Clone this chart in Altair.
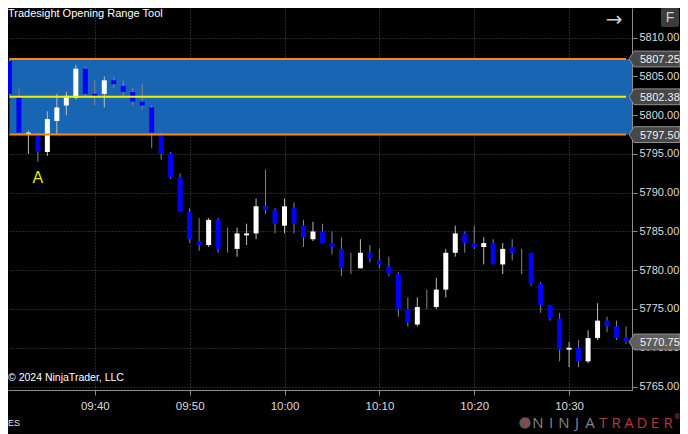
import altair as alt
import pandas as pd
import numpy as np

# ---- data (1-minute bars, minutes after 09:00) ----
minutes = list(range(31, 97))
opens = [5807.0, 5802.5, 5797.5, 5797.5, 5795.25, 5799.25, 5801.25, 5802.25, 5806.0, 5802.75,
         5802.75, 5804.5, 5803.75, 5803.0, 5801.75, 5801.0, 5797.5, 5795.0, 5792.0, 5787.5,
         5783.75, 5783.25, 5786.5, 5784.0, 5782.75, 5784.5, 5784.75, 5788.25, 5787.75, 5785.75,
         5788.0, 5785.75, 5784.0, 5785.0, 5783.5, 5782.75, 5781.0, 5780.25, 5782.25, 5781.25,
         5780.5, 5779.5, 5775.0, 5773.0, 5776.0, 5775.25, 5777.5, 5782.25, 5784.75, 5783.5,
         5783.0, 5783.5, 5780.75, 5783.0, 5781.0, 5782.25, 5778.25, 5775.5, 5773.75, 5769.75,
         5770.0, 5768.25, 5771.25, 5773.5, 5772.75, 5771.25]
highs = [5807.25, 5803.5, 5798.0, 5797.75, 5800.5, 5802.75, 5803.0, 5806.5, 5806.25, 5804.5,
         5805.0, 5805.0, 5804.5, 5803.5, 5804.0, 5801.25, 5797.75, 5795.25, 5792.5, 5788.0,
         5786.75, 5786.75, 5786.75, 5785.5, 5785.5, 5786.0, 5789.25, 5793.0, 5788.0, 5789.25,
         5788.75, 5786.5, 5786.25, 5786.0, 5785.0, 5784.25, 5782.25, 5784.0, 5783.25, 5782.75,
         5781.75, 5779.75, 5776.5, 5776.5, 5777.5, 5779.0, 5782.75, 5785.75, 5785.0, 5785.75,
         5784.25, 5784.0, 5783.5, 5784.0, 5782.75, 5782.25, 5778.5, 5775.5, 5774.5, 5770.75,
         5771.0, 5772.25, 5775.75, 5774.0, 5773.5, 5772.75]
lows = [5802.5, 5797.5, 5795.0, 5794.0, 5794.75, 5797.5, 5800.0, 5802.0, 5802.5, 5801.25,
        5801.0, 5803.5, 5802.5, 5801.25, 5800.75, 5795.75, 5794.25, 5791.75, 5787.5, 5783.5,
        5782.5, 5783.0, 5782.25, 5782.25, 5781.75, 5783.25, 5784.0, 5787.25, 5784.75, 5784.75,
        5784.75, 5783.0, 5783.75, 5783.5, 5782.0, 5779.25, 5779.5, 5780.25, 5781.0, 5780.25,
        5779.25, 5774.0, 5772.75, 5772.75, 5775.0, 5775.0, 5776.5, 5781.75, 5782.25, 5782.75,
        5780.75, 5780.75, 5779.5, 5781.25, 5779.5, 5778.0, 5774.5, 5773.5, 5768.25, 5767.5,
        5767.5, 5768.0, 5771.0, 5772.0, 5771.0, 5770.5]
closes = [5802.75, 5797.75, 5797.75, 5795.25, 5799.5, 5801.0, 5802.5, 5806.0, 5802.75, 5802.5,
          5804.5, 5804.0, 5803.0, 5801.75, 5801.25, 5797.75, 5795.0, 5792.0, 5787.5, 5784.0,
          5783.25, 5786.5, 5782.75, 5784.0, 5784.75, 5784.75, 5788.25, 5787.75, 5786.0, 5788.25,
          5786.0, 5784.25, 5785.0, 5783.5, 5783.0, 5780.25, 5781.0, 5782.25, 5781.5, 5780.75,
          5779.5, 5775.0, 5773.25, 5775.25, 5776.0, 5777.5, 5782.25, 5784.75, 5783.5, 5783.0,
          5783.5, 5780.75, 5782.75, 5782.25, 5781.0, 5778.25, 5775.5, 5773.75, 5769.75, 5770.0,
          5768.25, 5771.25, 5773.5, 5772.75, 5771.25, 5770.75]

range_start = [31]
range_end = [96]
range_levels = [5807.25, 5802.375, 5797.50]
range_kinds = ["edge", "mid", "edge"]
last_price = [5770.75]

x_ticks = [40, 50, 60, 70, 80, 90]
x_labels = ["09:40", "09:50", "10:00", "10:10", "10:20", "10:30"]
y_ticks = [5765, 5770, 5775, 5780, 5785, 5790, 5795, 5800, 5805, 5810]

marker_minute = [34]
marker_price = [5791.9]
marker_text = ["A"]

x_domain = [30.85, 96.63]
y_domain = [5764.55, 5813.83]

FONT = "Liberation Sans, Arial, sans-serif"

df = pd.DataFrame(dict(t=minutes, o=opens, h=highs, l=lows, c=closes))
o = np.array(opens); c = np.array(closes)
df["body"] = np.where(c > o, "#ffffff", np.where(c < o, "#0000ff", "#8a8a8a"))
df["wick"] = np.where(c > o, "#bdbdbd", "#858585")

xs = alt.Scale(domain=x_domain, nice=False, zero=False, padding=0)
ys = alt.Scale(domain=y_domain, nice=False, zero=False, padding=0)

label_expr = "".join(f"datum.value == {v} ? '{s}' : " for v, s in zip(x_ticks, x_labels)) + "''"

x_axis = alt.Axis(values=x_ticks, labelExpr=label_expr, title=None, grid=True,
                  gridColor="#4d4d4d", gridDash=[1, 2], gridWidth=1,
                  domainColor="#8c8c8c", tickColor="#8c8c8c", tickSize=5,
                  labelColor="#dcdcdc", labelFont=FONT, labelFontSize=11.5,
                  labelPadding=5, labelFlush=False)
y_axis = alt.Axis(values=y_ticks, format=".2f", orient="right", title=None, grid=True,
                  gridColor="#4d4d4d", gridDash=[1, 2], gridWidth=1,
                  domainColor="#8c8c8c", tickColor="#8c8c8c", tickSize=5,
                  labelColor="#dcdcdc", labelFont=FONT, labelFontSize=11,
                  labelPadding=2, labelFlush=False)


def X(f):
    return alt.X(f, type="quantitative", scale=xs, axis=x_axis)


def Y(f):
    return alt.Y(f, type="quantitative", scale=ys, axis=y_axis)


base = alt.Chart(df)

wicks = base.mark_rule(strokeWidth=1).encode(
    x=X("t"), y=Y("l"), y2="h:Q",
    color=alt.Color("wick:N", scale=None),
)

bodies = base.mark_bar(size=5).encode(
    x=X("t"), y=Y("o"), y2="c:Q",
    color=alt.Color("body:N", scale=None),
)

box_df = pd.DataFrame(dict(t0=range_start, lo=[range_levels[2]], hi=[range_levels[0]]))
box = alt.Chart(box_df).mark_rect(color="#1866b3").encode(
    x=X("t0"), x2=alt.value("width"), y=Y("lo"), y2="hi:Q",
)

lines_df = pd.DataFrame(dict(t0=range_start * 3, t1=range_end * 3, p=range_levels, kind=range_kinds))
lines = alt.Chart(lines_df).mark_rule(strokeWidth=2).encode(
    x=X("t0"), x2="t1:Q", y=Y("p"),
    color=alt.Color("kind:N", scale=alt.Scale(domain=["edge", "mid"], range=["#ff8a00", "#f2f200"]), legend=None),
)

tag_df = pd.DataFrame(dict(p=range_levels + last_price, kind=["range", "range", "range", "last"]))
tag_path = "M -1 0 L -0.8 -0.31 L 1 -0.31 L 1 0.31 L -0.8 0.31 Z"
tags = alt.Chart(tag_df).mark_point(shape=tag_path, size=2601, filled=True, opacity=1,
                                    stroke="#8f8f8f", strokeWidth=1).encode(
    x=alt.value(646.5),
    y=Y("p"),
    fill=alt.Fill("kind:N", scale=alt.Scale(domain=["range", "last"], range=["#474747", "#5e5e5e"]), legend=None),
)
tag_text = alt.Chart(tag_df).mark_text(align="left", baseline="middle", font=FONT, fontSize=11,
                                       color="#f2f2f2", dy=1).encode(
    x=alt.value(632),
    y=Y("p"),
    text=alt.Text("p:Q", format=".2f"),
)

marker_df = pd.DataFrame(dict(t=marker_minute, p=marker_price, s=marker_text))
marker = alt.Chart(marker_df).mark_text(font=FONT, fontSize=16, color="#e6e600",
                                        baseline="middle").encode(
    x=X("t"), y=Y("p"), text="s:N",
)


def label(text, x, y, **kw):
    return alt.Chart(pd.DataFrame({"s": [text]})).mark_text(**kw).encode(
        x=alt.value(x), y=alt.value(y), text="s:N")


title_txt = label("Tradesight Opening Range Tool", 0, 9, align="left", baseline="alphabetic",
                  font=FONT, fontSize=11, color="#ffffff")
copy_txt = label("© 2024 NinjaTrader, LLC", 0, 370, align="left", baseline="middle",
                 font=FONT, fontSize=10.5, color="#ffffff")
es_txt = label("ES", 0, 415, align="left", baseline="middle",
               font=FONT, fontSize=9, color="#e0e0e0")
arrow_txt = label("→", 606, 12, align="center", baseline="middle",
                  font="DejaVu Sans", fontSize=20, color="#cfcfcf")

fbox = alt.Chart(pd.DataFrame({"s": ["F"]})).mark_rect(color="#3c3c3c", cornerRadius=2).encode(
    x=alt.value(653), x2=alt.value(671), y=alt.value(0), y2=alt.value(19))
f_txt = label("F", 662, 10, align="center", baseline="middle",
              font=FONT, fontSize=14, color="#cfcfcf")

# logo
logo_letters = list("NINJATRADER")
logo_df = pd.DataFrame({"s": logo_letters, "i": range(len(logo_letters)),
                        "col": ["#858585"] * 5 + ["#b23a3a"] * 6})
logo = alt.Chart(logo_df).transform_calculate(px="530 + datum.i * 13").mark_text(
    font="Open Sans", fontSize=15, baseline="middle", align="center").encode(
    x=alt.X("px:Q", scale=None), y=alt.value(415), text="s:N",
    color=alt.Color("col:N", scale=None))
logo_reg = label("®", 669, 409, align="center", baseline="middle",
                 font="Open Sans", fontSize=8, color="#b23a3a")
logo_icon = alt.Chart(pd.DataFrame({"s": ["o"]})).mark_point(
    shape="circle", size=130, filled=True, opacity=1, color="#5a5a5a").encode(
    x=alt.value(517), y=alt.value(415))
logo_v = label("V", 517, 415, align="center", baseline="middle",
               font=FONT, fontSize=10, fontWeight="bold", color="#b23a3a")

chart = alt.layer(
    box, wicks, bodies, lines, tags, tag_text, marker,
    title_txt, copy_txt, es_txt, arrow_txt, fbox, f_txt,
    logo, logo_reg, logo_icon, logo_v,
).properties(
    width=624, height=382,
    autosize=alt.AutoSizeParams(type="none"),
    padding={"left": 0, "top": 0, "right": 48, "bottom": 44},
    background="#000000",
).configure_view(strokeWidth=0, fill="#000000")

chart.save("out.html", embed_options={"renderer": "svg", "actions": False})
